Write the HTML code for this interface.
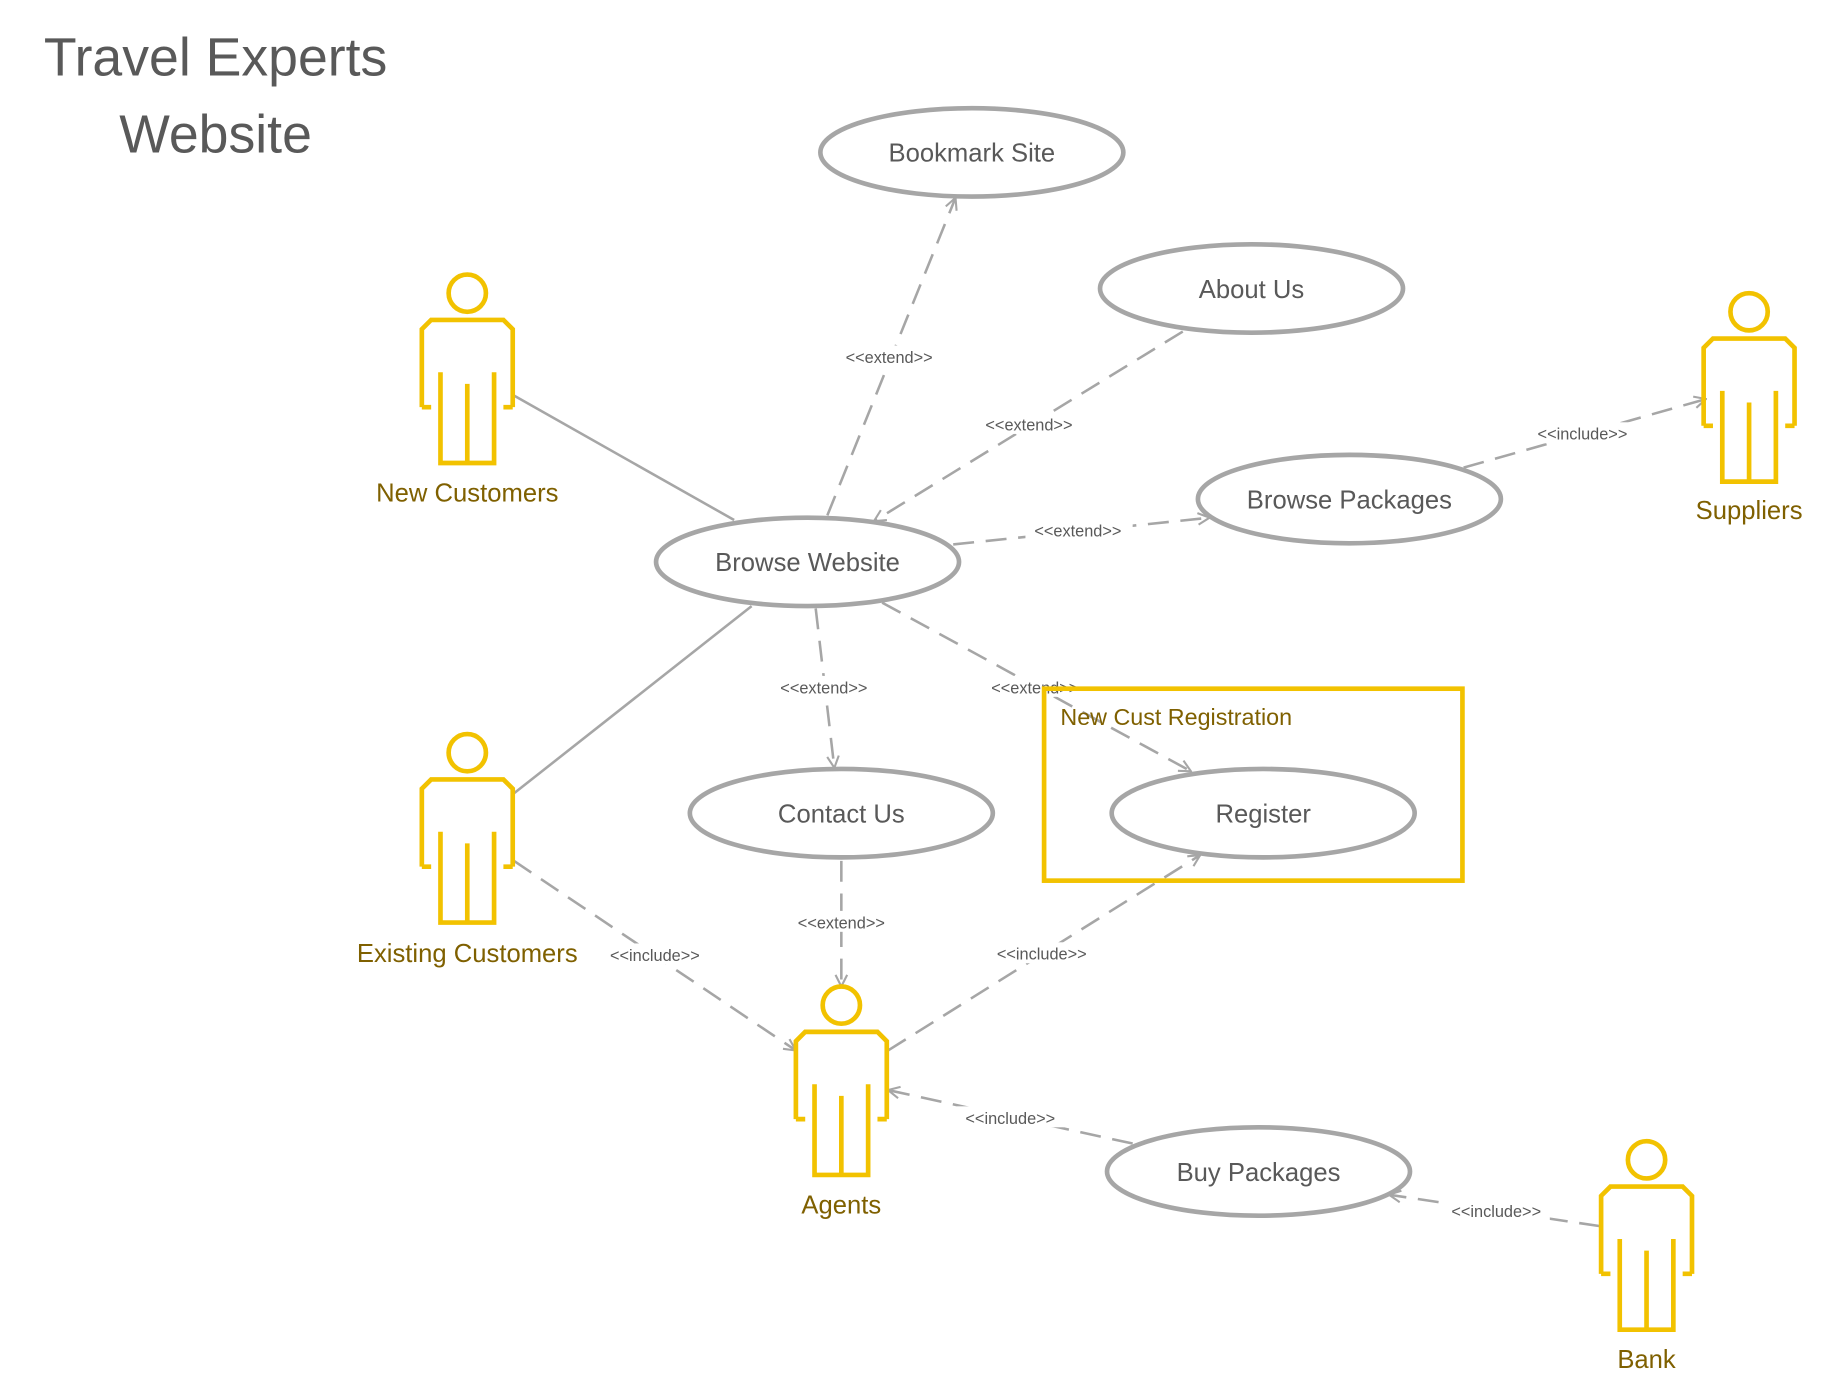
<!DOCTYPE html>
<html><head><meta charset="utf-8"><style>
html,body{margin:0;padding:0;background:#fff;}
svg{display:block;}
text{font-family:"Liberation Sans",sans-serif;}
</style></head><body>
<svg width="1826" height="1396" viewBox="0 0 1567 1200" preserveAspectRatio="none" xmlns="http://www.w3.org/2000/svg">
<defs>
<marker id="a" viewBox="0 0 12 12" refX="11" refY="6" markerWidth="12" markerHeight="12" markerUnits="userSpaceOnUse" orient="auto">
<path d="M1,1 L11,6 L1,11" fill="none" stroke="#a6a6a6" stroke-width="1.8"/>
</marker>
<g id="act" fill="none" stroke="#f2c200" stroke-width="4">
<circle cx="0" cy="0" r="16"/>
<path d="M-39,98 V31 L-31,23 H31 L39,31 V98 M-39,98 H-31 M39,98 H31 M-23,68 V146 H23 V68 M0,78 V146"/>
</g>
</defs>
<text x="185" y="65" font-size="46" fill="#595959" text-anchor="middle">Travel Experts</text>
<text x="185" y="131" font-size="46" fill="#595959" text-anchor="middle">Website</text>

<g stroke="#a6a6a6" stroke-width="2.2" fill="none">
<line x1="441" y1="340" x2="630" y2="447"/>
<line x1="645" y1="521" x2="441" y2="682"/>
<g stroke-dasharray="18,10" marker-end="url(#a)">
<line x1="710" y1="443" x2="820" y2="170"/>
<line x1="1015" y1="285" x2="750" y2="448"/>
<line x1="818" y1="468" x2="1038" y2="445"/>
<line x1="1256" y1="402" x2="1464" y2="343"/>
<line x1="700" y1="523" x2="716" y2="660"/>
<line x1="757" y1="518" x2="1022" y2="663"/>
<line x1="722" y1="740" x2="722" y2="848"/>
<line x1="441" y1="740" x2="683" y2="903"/>
<line x1="762" y1="903" x2="1030" y2="735"/>
<line x1="972" y1="983" x2="762" y2="937"/>
<line x1="1373" y1="1054" x2="1192" y2="1027"/>
</g>
</g>

<g font-size="14" fill="#595959" text-anchor="middle">
<g fill="#fff"><rect x="718" y="297" width="92" height="18"/><rect x="838" y="355" width="92" height="18"/><rect x="880" y="446" width="92" height="18"/><rect x="1312" y="363" width="92" height="18"/><rect x="661" y="581" width="92" height="18"/><rect x="842" y="581" width="92" height="18"/><rect x="676" y="783" width="92" height="18"/><rect x="516" y="811" width="92" height="18"/><rect x="848" y="810" width="92" height="18"/><rect x="821" y="951" width="92" height="18"/><rect x="1238" y="1031" width="92" height="18"/></g>
<text x="763" y="312">&lt;&lt;extend&gt;&gt;</text>
<text x="883" y="370">&lt;&lt;extend&gt;&gt;</text>
<text x="925" y="461">&lt;&lt;extend&gt;&gt;</text>
<text x="1358" y="378">&lt;&lt;include&gt;&gt;</text>
<text x="707" y="596">&lt;&lt;extend&gt;&gt;</text>
<text x="888" y="596">&lt;&lt;extend&gt;&gt;</text>
<text x="722" y="798">&lt;&lt;extend&gt;&gt;</text>
<text x="562" y="826">&lt;&lt;include&gt;&gt;</text>
<text x="894" y="825">&lt;&lt;include&gt;&gt;</text>
<text x="867" y="966">&lt;&lt;include&gt;&gt;</text>
<text x="1284" y="1046">&lt;&lt;include&gt;&gt;</text>
</g>

<rect x="896" y="592" width="359" height="165" fill="none" stroke="#f2c200" stroke-width="4"/>
<text x="910" y="623" font-size="20" fill="#7f6000">New Cust Registration</text>

<g fill="#fff" stroke="#a6a6a6" stroke-width="4">
<ellipse cx="834" cy="131" rx="130" ry="38"/>
<ellipse cx="1074" cy="248" rx="130" ry="38"/>
<ellipse cx="1158" cy="429" rx="130" ry="38"/>
<ellipse cx="693" cy="483" rx="130" ry="38"/>
<ellipse cx="722" cy="699" rx="130" ry="38"/>
<ellipse cx="1084" cy="699" rx="130" ry="38"/>
<ellipse cx="1080" cy="1007" rx="130" ry="38"/>
</g>
<g font-size="22" fill="#595959" text-anchor="middle">
<text x="834" y="139">Bookmark Site</text>
<text x="1074" y="256">About Us</text>
<text x="1158" y="437">Browse Packages</text>
<text x="693" y="491">Browse Website</text>
<text x="722" y="707">Contact Us</text>
<text x="1084" y="707">Register</text>
<text x="1080" y="1015">Buy Packages</text>
</g>

<use href="#act" x="401" y="252"/>
<use href="#act" x="401" y="647"/>
<use href="#act" x="1501" y="268"/>
<use href="#act" x="722" y="864"/>
<use href="#act" x="1413" y="997"/>
<g font-size="22" fill="#7f6000" text-anchor="middle">
<text x="401" y="431">New Customers</text>
<text x="401" y="827">Existing Customers</text>
<text x="1501" y="446">Suppliers</text>
<text x="722" y="1043">Agents</text>
<text x="1413" y="1176">Bank</text>
</g>
</svg>
</body></html>
